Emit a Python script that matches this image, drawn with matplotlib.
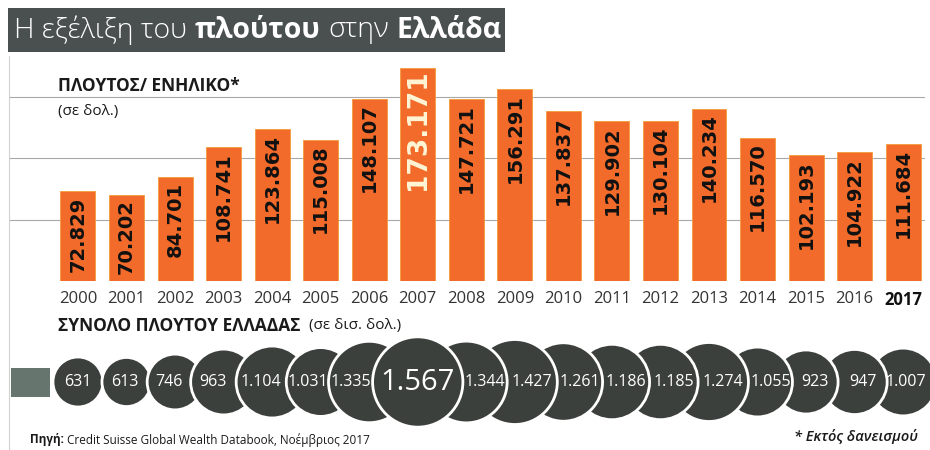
import matplotlib.pyplot as plt
from matplotlib.patches import Circle, Rectangle
import numpy as np

plt.rcParams['font.family'] = ['Open Sans', 'DejaVu Sans']

years = ['2000', '2001', '2002', '2003', '2004', '2005', '2006', '2007', '2008',
         '2009', '2010', '2011', '2012', '2013', '2014', '2015', '2016', '2017']
# πλούτος ανά ενήλικο (δολ.)
wealth_per_adult = [72829, 70202, 84701, 108741, 123864, 115008, 148107, 173171, 147721,
                    156291, 137837, 129902, 130104, 140234, 116570, 102193, 104922, 111684]
# σύνολο πλούτου (δισ. δολ.)
total_wealth = [631, 613, 746, 963, 1104, 1031, 1335, 1567, 1344,
                1427, 1261, 1186, 1185, 1274, 1055, 923, 947, 1007]


def gr(v):
    return f'{v:,}'.replace(',', '.')


W, H = 930, 450
fig = plt.figure(figsize=(W / 100, H / 100), dpi=100)
fig.patch.set_facecolor('white')

x = np.arange(len(years))
peak = int(np.argmax(wealth_per_adult))
x0, x1 = -1.40, 17.45
ppu = 915 / (x1 - x0)          # pixels per x unit
ymax = 180000
px_per_val = 1.23 / 1000

# --- bars ---
ax = fig.add_axes([10 / W, (H - 281) / H, 915 / W, ymax * px_per_val / H])
ax.bar(x, wealth_per_adult, width=0.72, color='#f26b2b', edgecolor='#f59a3a',
       linewidth=0.6, zorder=3)
ax.set_xlim(x0, x1)
ax.set_ylim(0, ymax)
ax.set_yticks([50000, 100000, 150000])
ax.tick_params(axis='y', length=0, labelleft=False)
ax.grid(axis='y', color='#a8a8a8', lw=0.8)
ax.set_axisbelow(True)
for s in ax.spines.values():
    s.set_visible(False)
ax.set_xticks(x, years)
ax.tick_params(axis='x', length=0, pad=7, labelsize=12, labelcolor='#333333')
ax.get_xticklabels()[-1].set_fontweight('bold')
ax.get_xticklabels()[-1].set_color('#111111')

for i, v in enumerate(wealth_per_adult):
    if i == peak:
        ax.annotate(gr(v), (i, v), xytext=(0, -1), textcoords='offset points',
                    rotation=90, ha='center', va='top', fontsize=19,
                    fontweight='bold', color='#fff6d5', family='DejaVu Sans', zorder=5)
    else:
        ax.annotate(gr(v), (i, v), xytext=(0, -3.5), textcoords='offset points',
                    rotation=90, ha='center', va='top', fontsize=14,
                    fontweight='bold', color='#111111', family='DejaVu Sans', zorder=5)

# --- circles ---
axc = fig.add_axes([10 / W, 10 / H, 915 / W, 115 / H])
axc.set_xlim(x0, x1)
axc.set_ylim(0, 115 / ppu)
axc.set_axis_off()
yc = 58 / ppu
radii = [25 * (v / 631) ** 0.65 / ppu for v in total_wealth]
for i, v in enumerate(total_wealth):
    axc.add_patch(Circle((i, yc), radii[i], facecolor='#3b403d', edgecolor='white',
                         linewidth=2, zorder=20 - abs(i - peak), clip_on=False))
    if i < peak:
        left, right = i - radii[i], (i + 1) - radii[i + 1]
    elif i > peak:
        left, right = (i - 1) + radii[i - 1], min(i + radii[i], x1)
    else:
        left, right = i - radii[i], i + radii[i]
    axc.text((left + right) / 2, yc, gr(v), ha='center', va='center', color='white',
             fontsize=21 if i == peak else 11.5, zorder=40, clip_on=False)

# --- overlay texts (pixel coordinates) ---
ov = fig.add_axes([0, 0, 1, 1])
ov.set_xlim(0, W)
ov.set_ylim(H, 0)
ov.set_axis_off()

ov.plot([9, 9], [56, 450], color='#d0d0d0', lw=0.8)
ov.add_patch(Rectangle((8, 8), 497, 44, facecolor='#4a504f', edgecolor='none'))
t = ov.text(14, 30, 'Η εξέλιξη του', fontsize=20.5, color='white', va='center',
            fontweight='light')
for seg, wt in [('πλούτου', 'bold'), ('στην', 'light'), ('Ελλάδα', 'bold')]:
    t = ov.annotate(seg, xy=(1, 0.5), xycoords=t, xytext=(5.5, 0),
                    textcoords='offset points', va='center', ha='left',
                    fontsize=20.5, color='white', fontweight=wt)

ov.text(58, 86, 'ΠΛΟΥΤΟΣ/ ΕΝΗΛΙΚΟ*', fontsize=12.5, fontweight='bold',
        color='#1a1a1a', va='center')
ov.text(58, 111, '(σε δολ.)', fontsize=11, color='#1a1a1a', va='center')

t = ov.text(58, 326, 'ΣΥΝΟΛΟ ΠΛΟΥΤΟΥ ΕΛΛΑΔΑΣ', fontsize=12.5, fontweight='bold',
            color='#1a1a1a', va='center')
ov.annotate('(σε δισ. δολ.)', xy=(1, 0.5), xycoords=t, xytext=(6, 0),
            textcoords='offset points', va='center', ha='left', fontsize=11,
            color='#1a1a1a')

ov.add_patch(Rectangle((11, 368), 39, 29, facecolor='#66756d', edgecolor='none'))

t = ov.text(30, 440, 'Πηγή:', fontsize=8.5, fontweight='bold', color='#1a1a1a',
            va='center')
ov.annotate('Credit Suisse Global Wealth Databook, Νοέμβριος 2017', xy=(1, 0.5),
            xycoords=t, xytext=(2.5, 0), textcoords='offset points', va='center',
            ha='left', fontsize=8.5, color='#1a1a1a')
ov.text(918, 437, '* Εκτός δανεισμού', ha='right', va='center', fontsize=10.5,
        style='italic', fontweight='semibold', color='#1a1a1a')

fig.savefig('out.png', dpi=100)
